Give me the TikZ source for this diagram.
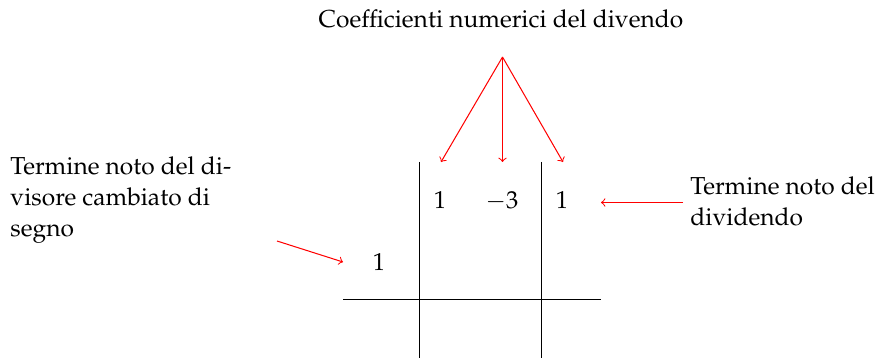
\documentclass[tikz,border=0pt]{standalone}
\usepackage[T1]{fontenc}
\usepackage{mathpazo}
\begin{document}
\begin{tikzpicture}[x=0.44pt,y=-0.44pt,
  font=\fontsize{10.8}{13.7}\selectfont,
  lbl/.style={inner sep=0pt, align=left},
  num/.style={inner sep=0pt},
  grid/.style={black, line width=0.45pt},
  pointer/.style={red, line width=0.45pt, ->}]
\useasboundingbox (0,0) rectangle (881,358);
% title
\node[lbl, anchor=base] (title) at (501,28) {Coefficienti numerici del divendo};
\coordinate (src) at (502.5,57);
\coordinate (t1) at (441,162);
\coordinate (t2) at (502.5,162);
\coordinate (t3) at (563,162);
\draw[pointer] (src) -- (t1);
\draw[pointer] (src) -- (t2);
\draw[pointer] (src) -- (t3);
% grid
\coordinate (v1t) at (419.5,162); \coordinate (v1b) at (419.5,358);
\coordinate (v2t) at (541.5,162); \coordinate (v2b) at (541.5,358);
\coordinate (hl) at (343,299.5); \coordinate (hr) at (601,299.5);
\draw[grid] (v1t) -- (v1b);
\draw[grid] (v2t) -- (v2b);
\draw[grid] (hl) -- (hr);
% numbers
\node[num, anchor=base] (a1) at (440,209) {$1$};
\node[num, anchor=base] (a2) at (502,209) {$-3$};
\node[num, anchor=base] (a3) at (562,209) {$1$};
\node[num, anchor=base] (d) at (379,270) {$1$};
% left label
\node[lbl, anchor=north west] (left) at (10,156) {Termine noto del di-\\visore cambiato di\\segno};
\coordinate (ls) at (277,241);
\coordinate (le) at (343,262);
\draw[pointer] (ls) -- (le);
% right label
\node[lbl, anchor=north west] (right) at (690,176) {Termine noto del\\dividendo};
\coordinate (rs) at (683,202.5);
\coordinate (re) at (601,202.5);
\draw[pointer] (rs) -- (re);
\end{tikzpicture}
\end{document}
